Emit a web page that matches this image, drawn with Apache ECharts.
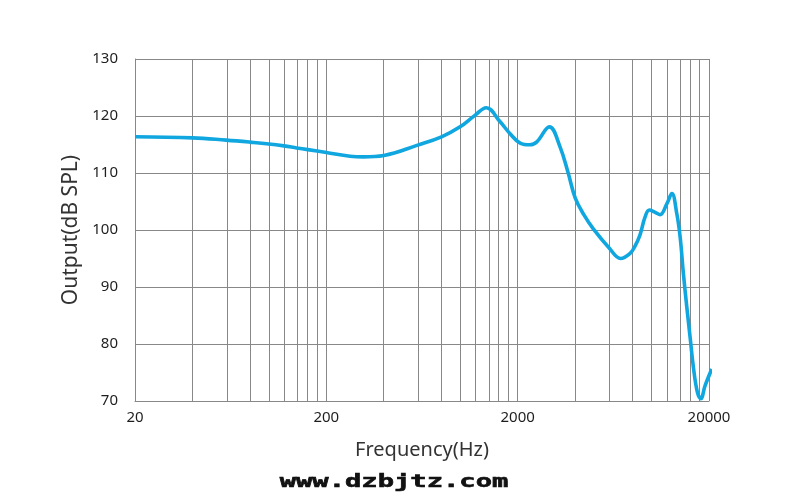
<!DOCTYPE html>
<html>
<head>
<meta charset="utf-8">
<script src="https://cdn.jsdelivr.net/npm/echarts@6/dist/echarts.min.js"></script>
<style>
html,body{margin:0;padding:0;background:#fff;}
#chart{width:791px;height:503px;}
</style>
</head>
<body>
<div id="chart"></div>
<script>
// Frequency response data (Hz, dB SPL)
var freqs = [20, 40, 60, 80, 100, 120, 140, 160, 200, 266, 312, 400, 600, 800, 1000, 1200, 1370, 1620, 1820, 2060, 2320, 2520, 2930, 3330, 3680, 4000, 4450, 4970, 6000, 6900, 7740, 8220, 8730, 9270, 9760, 10460, 11110, 12040, 12790, 13570, 14130, 14700, 15310, 15930, 16580, 17400, 18120, 19080, 20680];
var spl = [116.35, 116.17, 115.76, 115.41, 115.1, 114.76, 114.4, 114.1, 113.6, 112.95, 112.83, 113.08, 114.89, 116.34, 118.1, 120.16, 121.45, 118.98, 116.94, 115.25, 114.95, 115.47, 118.1, 114.59, 109.9, 105.6, 102.6, 100.2, 96.9, 95.0, 95.9, 97.2, 99.2, 102.3, 103.5, 103.1, 102.7, 104.6, 106.4, 102.9, 98.8, 92.3, 86.5, 81.2, 75.9, 71.5, 70.4, 72.7, 75.6];
// Axis ticks
var xTickLabels = ['20', '200', '2000', '20000'];
var minorGridFreqs = [40, 60, 80, 100, 120, 140, 160, 180, 400, 600, 800, 1000, 1200, 1400, 1600, 1800, 4000, 6000, 8000, 10000, 12000, 14000, 16000, 18000];
var yMin = 70, yMax = 130, yStep = 10;

var baseFreq = 20;
function toX(f) { return Math.log10(f / baseFreq); }

var gridColor = '#888888';
var textColor = '#1e1e1e';
var font = 'Noto Sans';

var chart = echarts.init(document.getElementById('chart'), null, {renderer: 'canvas'});
chart.setOption({
  animation: false,
  backgroundColor: '#fff',
  grid: {left: 135, right: 82, top: 59, bottom: 102},
  xAxis: {
    type: 'value',
    min: 0, max: xTickLabels.length - 1, interval: 1,
    name: 'Frequency(Hz)',
    nameLocation: 'middle',
    nameGap: 39,
    nameTextStyle: {fontFamily: font, fontSize: 20, color: '#333'},
    axisLine: {show: true, lineStyle: {color: gridColor, width: 1}},
    axisTick: {show: false},
    axisLabel: {
      fontFamily: font, fontSize: 15, color: textColor, margin: 9,
      formatter: function (v) { return xTickLabels[Math.round(v)]; }
    },
    splitLine: {show: true, lineStyle: {color: gridColor, width: 1}}
  },
  yAxis: {
    type: 'value',
    min: yMin, max: yMax, interval: yStep,
    name: 'Output(dB SPL)',
    nameLocation: 'middle',
    nameGap: 50,
    nameTextStyle: {fontFamily: font, fontSize: 21, color: '#333'},
    axisLine: {show: true, lineStyle: {color: gridColor, width: 1}},
    axisTick: {show: false},
    axisLabel: {fontFamily: font, fontSize: 15, color: textColor, margin: 17},
    splitLine: {show: true, lineStyle: {color: gridColor, width: 1}}
  },
  graphic: [{
    type: 'text',
    x: 394, y: 482,
    scaleX: 1.55,
    style: {
      text: 'www.dzbjtz.com',
      fontFamily: 'DejaVu Sans Mono',
      fontWeight: 'bold',
      fontSize: 17.5,
      fill: '#111',
      stroke: '#111',
      lineWidth: 0.6,
      align: 'center',
      verticalAlign: 'middle'
    }
  }],
  series: [
    {
      type: 'line',
      z: 1,
      silent: true,
      data: [],
      markLine: {
        silent: true,
        symbol: ['none', 'none'],
        label: {show: false},
        lineStyle: {color: gridColor, width: 1, type: 'solid'},
        emphasis: {disabled: true},
        animation: false,
        data: minorGridFreqs.map(function (f) { return {xAxis: toX(f)}; })
      }
    },
    {
      type: 'line',
      z: 5,
      clip: false,
      smooth: 0.4,
      symbol: 'none',
      lineStyle: {color: '#10a6df', width: 3.6},
      data: freqs.map(function (f, i) { return [toX(f), spl[i]]; })
    }
  ]
});
</script>
</body>
</html>
